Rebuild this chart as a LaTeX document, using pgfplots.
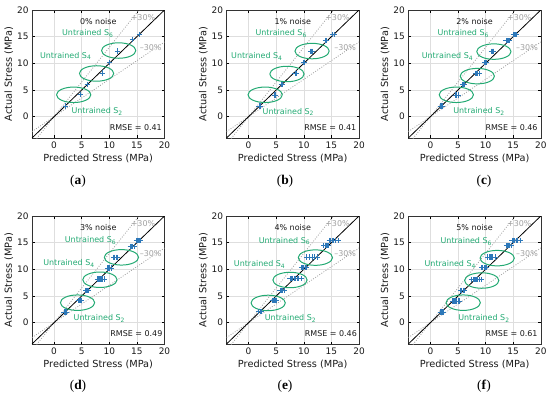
\documentclass[border=0pt]{standalone}
\usepackage{fontspec}
\setmainfont{DejaVu Sans}
\newfontfamily\capfont{Liberation Serif}
\usepackage{pgfplots}
\pgfplotsset{compat=1.18}
\definecolor{ptblue}{RGB}{45,120,185}
\definecolor{ugreen}{RGB}{35,170,115}
\definecolor{refgray}{RGB}{160,160,160}
\pgfplotsset{
 panel/.style={
  scale only axis, width=132.5bp, height=128bp,
  xmin=-4,xmax=20,ymin=-4,ymax=20,
  xtick={0,5,10,15,20}, ytick={0,5,10,15,20},
  grid=major, grid style={black!13,line width=0.5pt},
  tick align=inside, major tick length=2.5bp,
  tick style={black, line width=0.5pt},
  axis line style={black!80, line width=0.6pt},
  /pgf/number format/assume math mode=true,
  ticklabel style={font=\fontsize{9}{10}\selectfont, text=black!90},
  label style={font=\fontsize{9.8}{11}\selectfont, text=black!90},
  xlabel={Predicted Stress (MPa)}, ylabel={Actual Stress (MPa)},
  ylabel style={xshift=0bp, yshift=-3bp},
  xlabel style={yshift=1bp},
 },
 pts/.style={only marks, mark=+, mark size=2.6bp, color=ptblue, line width=0.8pt},
}
\tikzset{ann/.style={font=\fontsize{8}{9}\selectfont, inner sep=0pt},
 subcap/.style={font=\capfont\fontsize{13.5}{15}\selectfont}}
\newcommand{\refs}{%
 \addplot[refgray, line width=0.8pt, dash pattern=on 0.9pt off 1.6pt] coordinates {(-4,-5.2) (20,26)};
 \addplot[refgray, line width=0.8pt, dash pattern=on 0.9pt off 1.6pt] coordinates {(-4,-2.8) (20,14)};
 \addplot[black, line width=0.8pt] coordinates {(-4,-4) (20,20)};
}
\newcommand{\fixed}[1]{%
 \node[ann, text=black!90] at (axis cs:8.0,17.9) {#1\% noise};
 \node[ann, text=refgray] at (axis cs:16.1,18.6) {+30\%};
 \node[ann, text=refgray] at (axis cs:17.5,12.9) {\textendash30\%};
}
\newcommand{\ellp}[2]{\draw[ugreen, line width=1pt] (axis cs:#1,#2) ellipse [x radius=3.1, y radius=1.45];}
\begin{document}
\begin{tikzpicture}
\path[use as bounding box] (0,0) rectangle (550bp,-396bp);
% (a)
\begin{axis}[panel, at={(32bp,-10bp)}, anchor=north west]
\refs
\addplot[pts] coordinates {(2.0,2.0) (4.8,4.1) (6.0,6.05) (8.7,8.2) (10.1,10.1) (11.5,12.3) (14.2,14.4) (15.5,15.4)};
\ellp{3.55}{4.1}\ellp{7.7}{8.1}\ellp{11.7}{12.4}
\fixed{0}
\node[ann, text=ugreen] at (axis cs:6.1,15.6) {Untrained S\textsubscript{6}};
\node[ann, text=ugreen] at (axis cs:2.1,11.4) {Untrained S\textsubscript{4}};
\node[ann, text=ugreen] at (axis cs:7.8,1.0) {Untrained S\textsubscript{2}};
\node[ann, text=black!90] at (axis cs:14.8,-2.05) {RMSE = 0.41};
\end{axis}
% (b)
\begin{axis}[panel, at={(226.5bp,-10bp)}, anchor=north west]
\refs
\addplot[pts] coordinates {(1.9,2.0) (2.1,2.0) (4.7,4.05) (4.9,4.05) (5.9,6.05) (6.1,6.05) (8.4,8.15) (8.6,8.15) (8.7,8.15) (9.9,10.15) (10.1,10.15) (11.2,12.25) (11.4,12.25) (11.5,12.25) (13.9,14.3) (14.1,14.3) (15.2,15.35) (15.5,15.35)};
\ellp{3.0}{4.1}\ellp{6.95}{8.0}\ellp{11.5}{12.3}
\fixed{1}
\node[ann, text=ugreen] at (axis cs:5.9,15.6) {Untrained S\textsubscript{6}};
\node[ann, text=ugreen] at (axis cs:1.5,11.25) {Untrained S\textsubscript{4}};
\node[ann, text=ugreen] at (axis cs:7.2,0.9) {Untrained S\textsubscript{2}};
\node[ann, text=black!90] at (axis cs:14.8,-2.05) {RMSE = 0.41};
\end{axis}
% (c)
\begin{axis}[panel, at={(408.3bp,-10bp)}, anchor=north west]
\refs
\addplot[pts] coordinates {(1.8,2.0) (2.0,2.0) (2.2,2.0) (4.6,4.05) (4.8,4.05) (5.0,4.05) (5.8,6.05) (6.0,6.05) (6.2,6.05) (8.2,8.15) (8.4,8.15) (8.6,8.15) (8.8,8.15) (9.8,10.15) (10.0,10.15) (10.2,10.15) (11.0,12.25) (11.2,12.25) (11.4,12.25) (11.5,12.25) (13.7,14.3) (13.9,14.3) (14.1,14.3) (14.3,14.3) (15.0,15.35) (15.2,15.35) (15.4,15.35) (15.6,15.35)};
\ellp{4.7}{4.1}\ellp{8.5}{7.6}\ellp{11.5}{12.2}
\fixed{2}
\node[ann, text=ugreen] at (axis cs:5.95,15.6) {Untrained S\textsubscript{6}};
\node[ann, text=ugreen] at (axis cs:3.1,11.25) {Untrained S\textsubscript{4}};
\node[ann, text=ugreen] at (axis cs:8.8,1.0) {Untrained S\textsubscript{2}};
\node[ann, text=black!90] at (axis cs:14.7,-2.05) {RMSE = 0.46};
\end{axis}
% (d)
\begin{axis}[panel, at={(32bp,-216bp)}, anchor=north west]
\refs
\addplot[pts] coordinates {(1.8,2.0) (2.0,2.0) (2.2,2.0) (4.4,4.15) (4.6,4.15) (4.8,4.15) (5.0,4.15) (5.7,6.05) (5.9,6.05) (6.1,6.05) (6.3,6.05) (7.8,8.2) (8.0,8.2) (8.2,8.2) (8.4,8.2) (8.6,8.2) (8.8,8.2) (9.1,8.2) (9.7,10.25) (9.9,10.25) (10.1,10.25) (10.3,10.25) (10.8,12.25) (11.0,12.25) (11.2,12.25) (11.4,12.25) (13.8,14.35) (14.0,14.35) (14.2,14.35) (14.5,14.35) (14.9,15.4) (15.1,15.4) (15.3,15.4) (15.5,15.4) (15.7,15.4)};
\ellp{4.25}{3.75}\ellp{8.3}{8.05}\ellp{12.2}{12.25}
\fixed{3}
\node[ann, text=ugreen] at (axis cs:6.6,15.4) {Untrained S\textsubscript{6}};
\node[ann, text=ugreen] at (axis cs:2.7,11.1) {Untrained S\textsubscript{4}};
\node[ann, text=ugreen] at (axis cs:8.2,0.75) {Untrained S\textsubscript{2}};
\node[ann, text=black!90] at (axis cs:14.9,-2.05) {RMSE = 0.49};
\end{axis}
% (e)
\begin{axis}[panel, at={(226.5bp,-216bp)}, anchor=north west]
\refs
\addplot[pts] coordinates {(1.8,2.05) (2.05,2.05) (2.3,2.05) (4.3,4.15) (4.5,4.15) (4.7,4.15) (4.9,4.15) (5.1,4.15) (5.7,6.1) (5.9,6.1) (6.1,6.1) (6.4,6.1) (7.5,8.25) (7.8,8.25) (8.0,8.25) (8.3,8.25) (8.5,8.25) (8.8,8.25) (9.0,8.25) (9.6,8.25) (9.6,10.3) (9.8,10.3) (10.0,10.3) (10.2,10.3) (10.4,10.3) (10.5,12.3) (11.0,12.3) (11.6,12.3) (11.9,12.3) (12.4,12.3) (13.6,14.4) (13.9,14.4) (14.1,14.4) (14.3,14.4) (14.5,14.4) (14.6,15.4) (14.9,15.4) (15.1,15.4) (15.4,15.4) (15.7,15.4) (16.2,15.4)};
\ellp{3.55}{3.7}\ellp{7.5}{8.0}\ellp{12.1}{12.2}
\fixed{4}
\node[ann, text=ugreen] at (axis cs:6.5,15.3) {Untrained S\textsubscript{6}};
\node[ann, text=ugreen] at (axis cs:2.0,10.9) {Untrained S\textsubscript{4}};
\node[ann, text=ugreen] at (axis cs:7.6,0.75) {Untrained S\textsubscript{2}};
\node[ann, text=black!90] at (axis cs:14.9,-2.05) {RMSE = 0.46};
\end{axis}
% (f)
\begin{axis}[panel, at={(408.3bp,-216bp)}, anchor=north west]
\refs
\addplot[pts] coordinates {(1.8,2.0) (2.0,2.0) (2.15,2.0) (2.4,2.0) (4.0,4.05) (4.2,4.05) (4.4,4.05) (4.6,4.05) (4.8,4.05) (5.0,4.05) (5.2,4.05) (5.5,6.1) (5.7,6.1) (5.9,6.1) (6.2,6.1) (7.4,8.1) (7.7,8.1) (7.9,8.1) (8.1,8.1) (8.3,8.1) (8.5,8.1) (8.8,8.1) (9.3,8.1) (9.3,10.3) (9.5,10.3) (9.7,10.3) (9.9,10.3) (10.1,10.3) (10.3,12.3) (10.6,12.3) (10.8,12.3) (11.0,12.3) (11.3,12.3) (11.8,12.3) (13.8,14.4) (14.0,14.4) (14.2,14.4) (14.4,14.4) (14.6,14.4) (14.8,15.4) (15.1,15.4) (15.3,15.4) (15.5,15.4) (15.8,15.4) (16.3,15.4)};
\ellp{5.95}{3.75}\ellp{9.3}{7.9}\ellp{12.1}{12.1}
\fixed{5}
\node[ann, text=ugreen] at (axis cs:6.5,15.2) {Untrained S\textsubscript{6}};
\node[ann, text=ugreen] at (axis cs:3.6,10.9) {Untrained S\textsubscript{4}};
\node[ann, text=ugreen] at (axis cs:9.7,0.75) {Untrained S\textsubscript{2}};
\node[ann, text=black!90] at (axis cs:14.7,-2.05) {RMSE = 0.61};
\end{axis}
\node[subcap] at (78bp,-181.5bp) {(\textbf{a})};
\node[subcap] at (285bp,-181.5bp) {(\textbf{b})};
\node[subcap] at (484bp,-181.5bp) {(\textbf{c})};
\node[subcap] at (78bp,-386bp) {(\textbf{d})};
\node[subcap] at (285bp,-386bp) {(\textbf{e})};
\node[subcap] at (484bp,-386bp) {(\textbf{f})};
\end{tikzpicture}
\end{document}
